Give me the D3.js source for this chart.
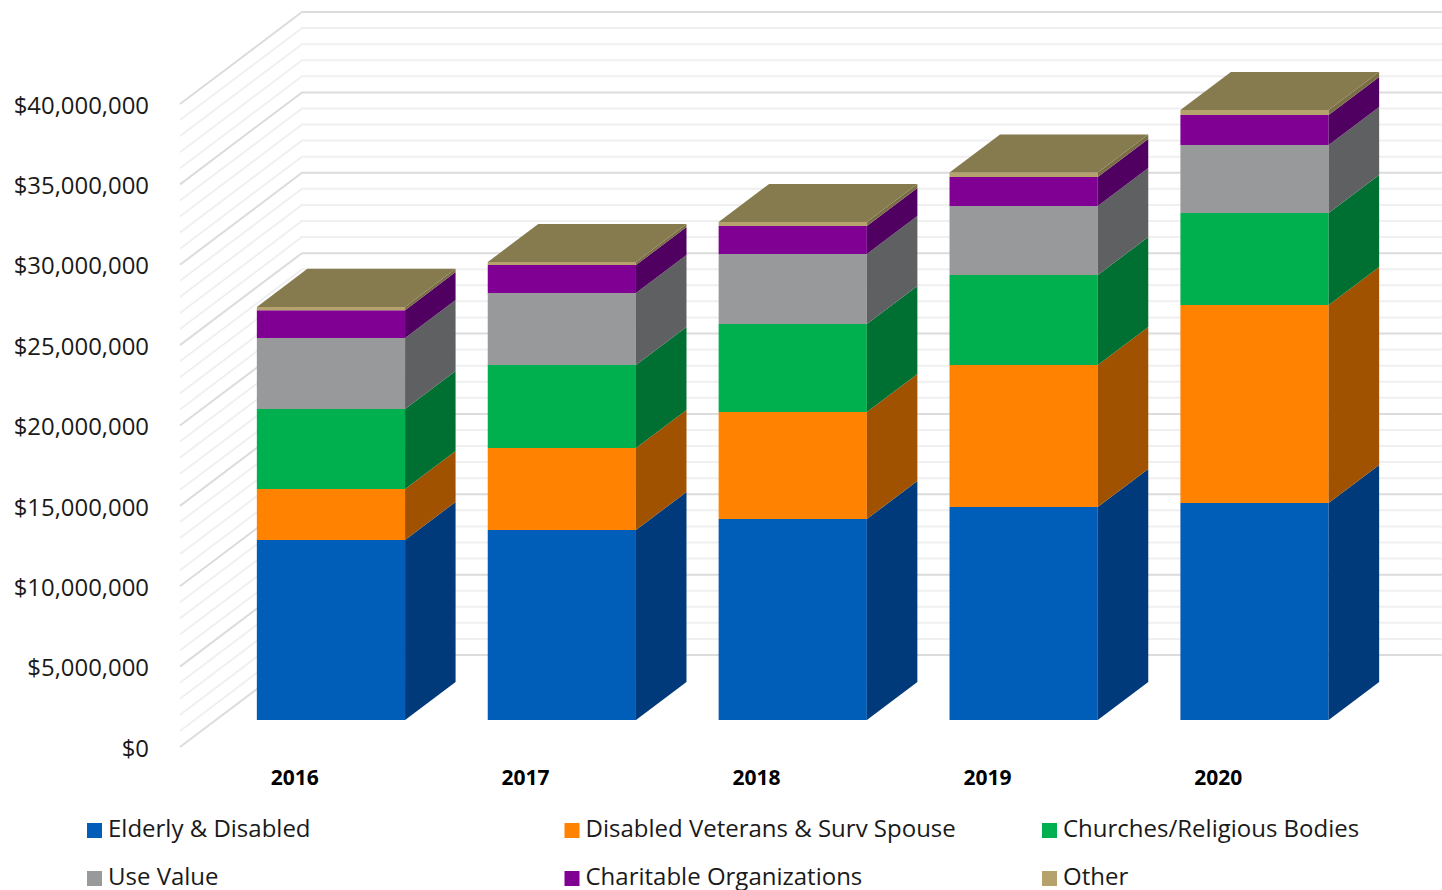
<!DOCTYPE html>
<html><head><meta charset="utf-8">
<script src="https://cdnjs.cloudflare.com/ajax/libs/d3/7.8.5/d3.min.js"></script>
<style>html,body{margin:0;padding:0;background:#fff;overflow:hidden}svg{display:block}text{font-family:"Open Sans",sans-serif}</style>
</head><body><svg id="c" width="1442" height="890"></svg>
<script>
const years = ["2016","2017","2018","2019","2020"];
const seriesNames = ["Elderly & Disabled","Disabled Veterans & Surv Spouse","Churches/Religious Bodies","Use Value","Charitable Organizations","Other"];
const elderly   = [11.20,11.82,12.50,13.25,13.50];
const veterans  = [3.17,5.10,6.66,8.83,12.32];
const churches  = [4.98,5.16,5.47,5.60,5.72];
const useValue  = [4.41,4.48,4.36,4.30,4.23];
const charity   = [1.74,1.74,1.74,1.80,1.87];
const other     = [0.20,0.19,0.25,0.28,0.31];
const frontColors = ["#005EB8","#FF8200","#00B04F","#97999B","#800094","#B5A26C"];
const sideColors  = ["#003A7A","#A05200","#006F32","#5F6062","#500060","#7A6E45"];
const topColor = "#857B4E";
const yTicks = [0,5,10,15,20,25,30,35,40];
const minorTicks = d3.range(0,41);

const svg = d3.select("#c");
const y = d3.scaleLinear().domain([0,40]).range([747,104]);
const x = d3.scaleBand().domain(years).range([180,1334]).paddingInner(0.358).paddingOuter(0.178);
const depthX = d3.scaleLinear().domain([0,1]).range([0,122]);
const depthY = d3.scaleLinear().domain([0,1]).range([0,-92]);
const P = (px,v,z)=>[px+depthX(z), y(v)+depthY(z)];
const line = d3.line();
const zFront = 0.293, zBack = 0.707;

// walls
const grid = svg.append("g").attr("fill","none");
grid.selectAll("path").data(minorTicks.filter(d=>d%5).concat(yTicks)).join("path")
  .attr("d",d=>line([P(180,d,0),P(180,d,1),[1442,P(180,d,1)[1]]]))
  .attr("stroke",d=>d%5===0?"#dcdcdc":"#f0f0f0")
  .attr("stroke-width",2);

// stacked prisms
const matrix = years.map((yr,i)=>[elderly[i],veterans[i],churches[i],useValue[i],charity[i],other[i]]);
years.forEach((yr,i)=>{
  const g = svg.append("g");
  const xl = x(yr), xr = xl + x.bandwidth();
  let base = 0;
  matrix[i].forEach((val,s)=>{
    const top = base+val;
    g.append("path").attr("fill",frontColors[s])
      .attr("d",line([P(xl,base,zFront),P(xr,base,zFront),P(xr,top,zFront),P(xl,top,zFront)])+"Z");
    g.append("path").attr("fill",sideColors[s])
      .attr("d",line([P(xr,base,zFront),P(xr,base,zBack),P(xr,top,zBack),P(xr,top,zFront)])+"Z");
    base = top;
  });
  g.append("path").attr("fill",topColor)
    .attr("d",line([P(xl,base,zFront),P(xr,base,zFront),P(xr,base,zBack),P(xl,base,zBack)])+"Z");
});

// y axis
const axisY = d3.axisLeft(y).tickValues(yTicks).tickSize(0).tickPadding(0)
  .tickFormat(d=>"$"+d3.format(",")(d*1e6));
const ga = svg.append("g").attr("transform","translate(149,1.5)").call(axisY);
ga.select(".domain").remove();
ga.selectAll("text").attr("font-family",'"Open Sans",sans-serif').attr("font-size",23.9).attr("fill","#1a1a1a");

// x axis
const axisX = d3.axisBottom(x).tickSize(0).tickPadding(0);
const gx = svg.append("g").attr("transform","translate(-0.5,770)").call(axisX);
gx.select(".domain").remove();
gx.selectAll("text").attr("font-family",'"Open Sans",sans-serif').attr("font-size",21).attr("font-weight",700).attr("fill","#000");

// legend
const legX = d3.scalePoint().domain([0,1,2]).range([87,1042]);
const legY = d3.scalePoint().domain([0,1]).range([823,871]);
const leg = svg.append("g").selectAll("g").data(seriesNames).join("g")
  .attr("transform",(d,i)=>`translate(${legX(i%3)},${legY(Math.floor(i/3))})`);
leg.append("rect").attr("width",15).attr("height",15).attr("fill",(d,i)=>frontColors[i]);
leg.append("text").attr("x",21).attr("y",13.5).attr("font-size",24).attr("fill","#1a1a1a").text(d=>d);
</script></body></html>
